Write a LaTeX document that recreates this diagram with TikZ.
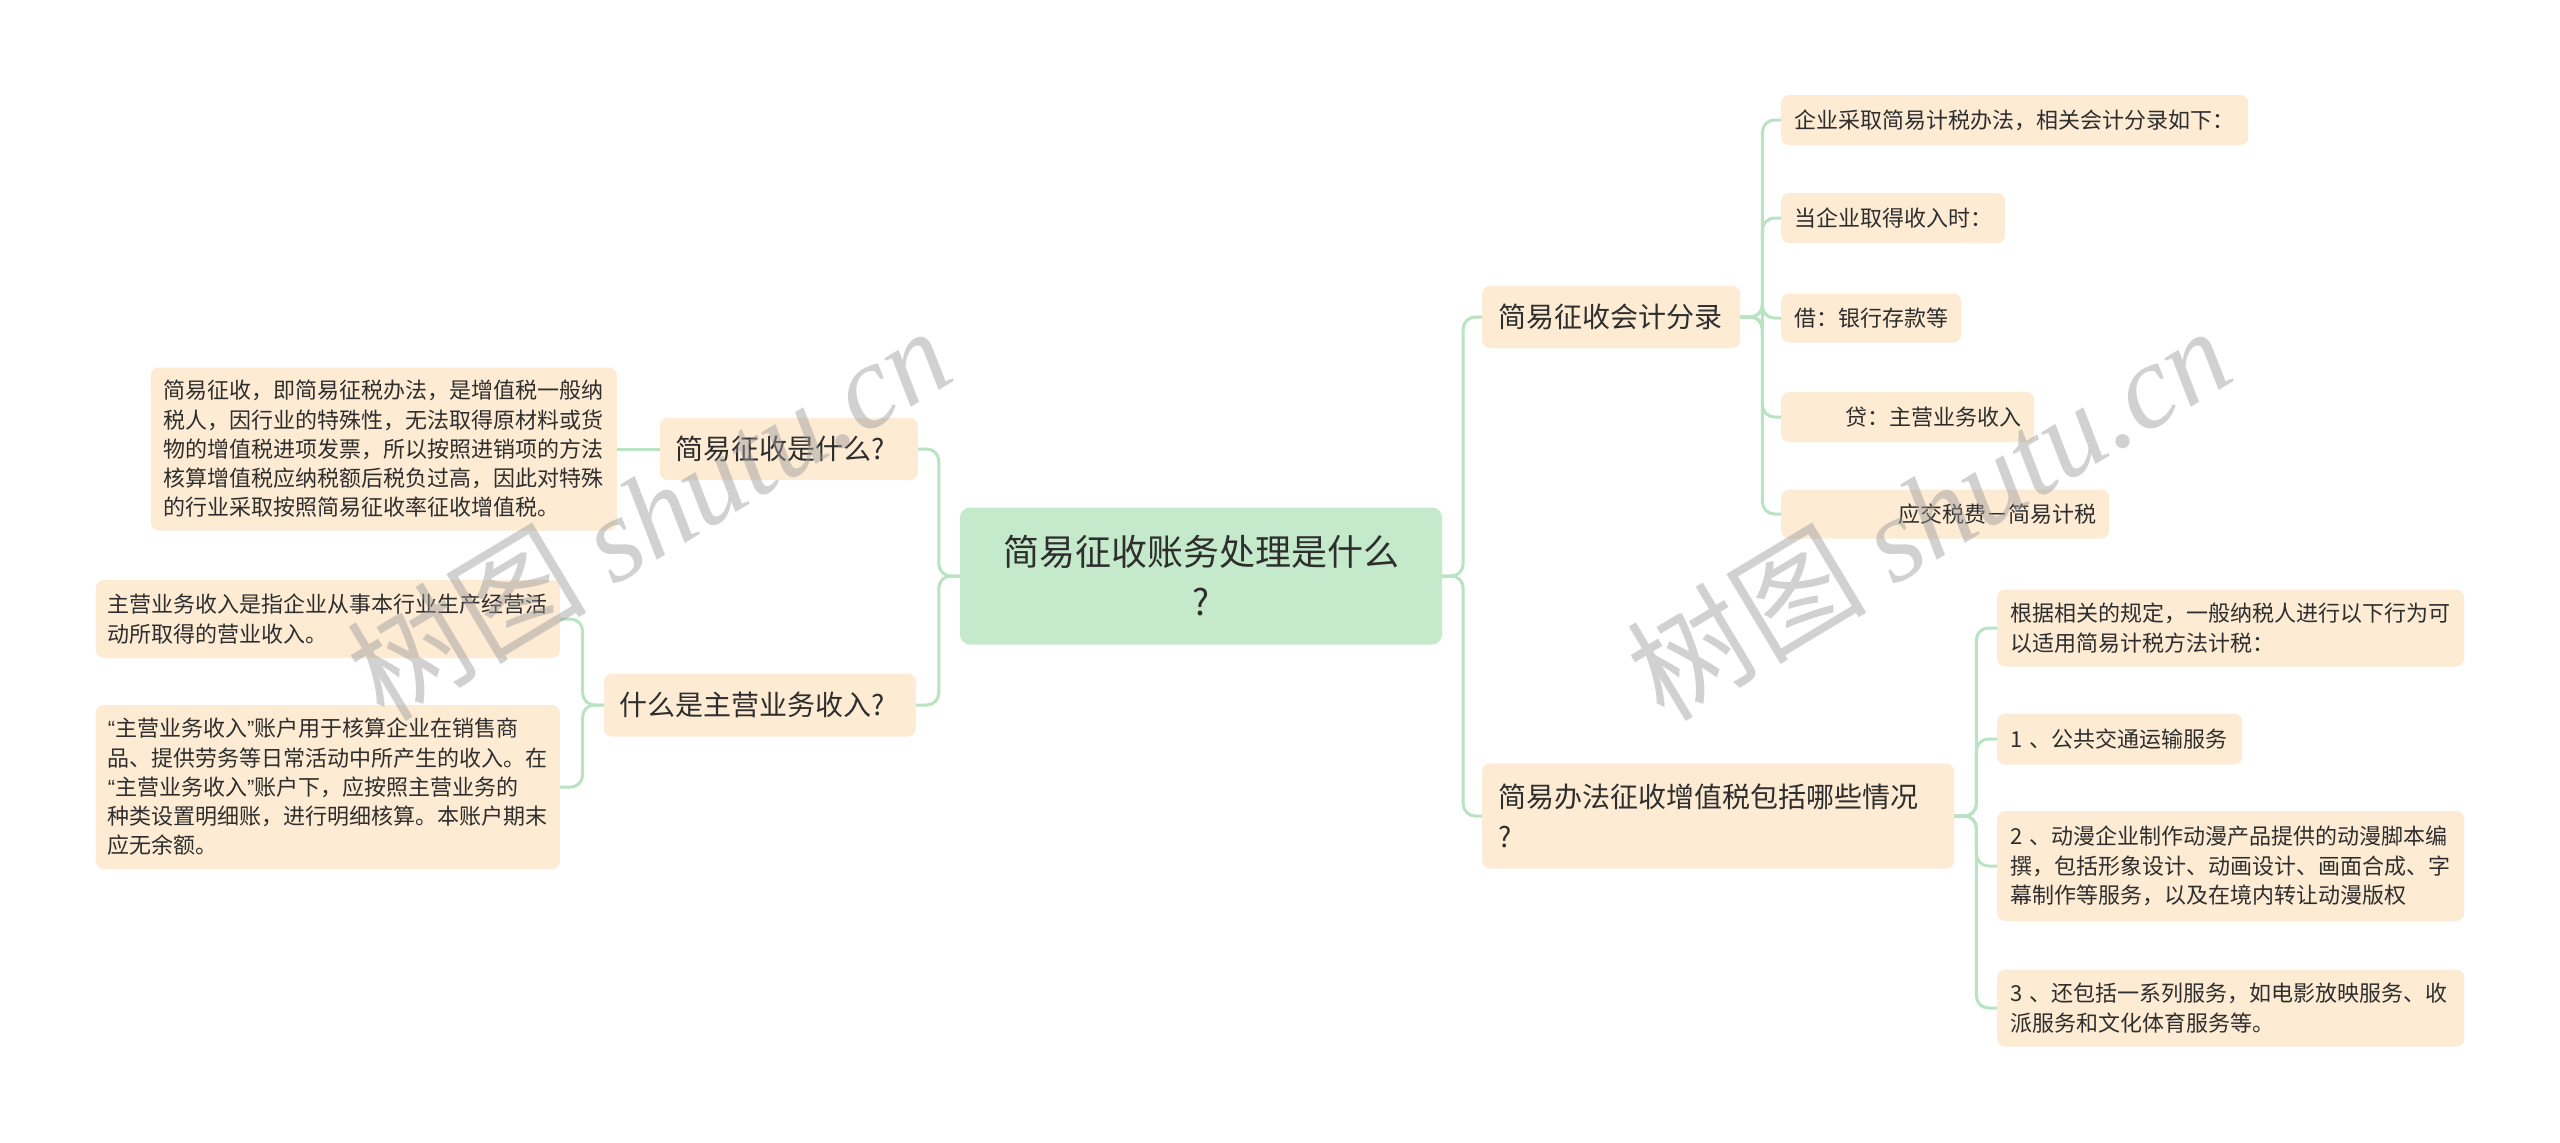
\documentclass[tikz,border=0pt]{standalone}
\usepackage{fontspec}
\newfontfamily\cjk{Noto Sans CJK SC}
\newfontfamily\wmLatin{Liberation Serif}
\newfontfamily\quoteFont{Liberation Sans}
\newcommand{\openQ}{{\quoteFont “}}
\newcommand{\closeQ}{{\quoteFont ”}}
\definecolor{rootGreen}{HTML}{C5EACB}
\definecolor{peach}{HTML}{FDEBD4}
\definecolor{linkGreen}{HTML}{B9E3C2}
\definecolor{textDark}{HTML}{2E2E2E}

\begin{document}
\begin{tikzpicture}[x=1pt, y=-1pt,
box/.style={rectangle, rounded corners=8, fill=peach, text=textDark, align=left, inner ysep=0},
topic/.style={box, fill=rootGreen, rounded corners=10, align=center, font=\cjk\fontsize{36}{50}\selectfont},
branch/.style={box, inner xsep=16, font=\cjk\fontsize{28}{40}\selectfont},
leaf/.style={box, inner xsep=13, font=\cjk\fontsize{22}{29.3}\selectfont},
link/.style={draw=linkGreen, line width=3, rounded corners=12},
watermark/.style={text=black!40, opacity=0.45, font=\fontsize{120}{120}\selectfont, inner sep=0}]

\fill[white] (0,0) rectangle (2560,1143);
\useasboundingbox (0,0) rectangle (2560,1143);

% ROOT
\node[topic, minimum width=482, minimum height=137] (root) at (1201,576) {简易征收账务处理是什么\\?};

% LEFT SIDE
\node[branch, anchor=east, text width=226, minimum height=62] (whatIs) at (918,449) {简易征收是什么?};
\node[leaf, anchor=east, text width=440, minimum height=163] (whatIsText) at (617,449)
{简易征收，即简易征税办法，是增值税一般纳\\税人，因行业的特殊性，无法取得原材料或货\\物的增值税进项发票，所以按照进销项的方法\\核算增值税应纳税额后税负过高，因此对特殊\\的行业采取按照简易征收率征收增值税。};

\node[branch, anchor=east, text width=280, minimum height=63] (mainIncome) at (916,705) {什么是主营业务收入?};
\node[leaf, anchor=east, text width=440, inner xsep=12, minimum height=78] (mainIncomeA) at (560,619)
{主营业务收入是指企业从事本行业生产经营活\\动所取得的营业收入。};
\node[leaf, anchor=east, text width=440, inner xsep=12, minimum height=164] (mainIncomeB) at (560,787)
{\openQ 主营业务收入\closeQ 账户用于核算企业在销售商\\品、提供劳务等日常活动中所产生的收入。在\\\openQ 主营业务收入\closeQ 账户下，应按照主营业务的\\种类设置明细账，进行明细核算。本账户期末\\应无余额。};

% RIGHT SIDE
\node[branch, anchor=west, text width=226, minimum height=62] (entries) at (1482,317) {简易征收会计分录};
\node[leaf, anchor=west, text width=441, minimum height=50] (entryA) at (1781,120) {企业采取简易计税办法，相关会计分录如下：};
\node[leaf, anchor=west, text width=198, minimum height=50] (entryB) at (1781,218) {当企业取得收入时：};
\node[leaf, anchor=west, text width=154, minimum height=49] (entryC) at (1781,318) {借：银行存款等};
\node[leaf, anchor=west, text width=227, minimum height=50] (entryD) at (1781,417) {\hspace*{51pt}贷：主营业务收入};
\node[leaf, anchor=west, text width=302, minimum height=49] (entryE) at (1781,514) {\hspace*{104pt}应交税费－简易计税};

\node[branch, anchor=west, text width=440, minimum height=105] (cases) at (1482,816) {简易办法征收增值税包括哪些情况\\?};
\node[leaf, anchor=west, text width=441, minimum height=77] (caseA) at (1997,628)
{根据相关的规定，一般纳税人进行以下行为可\\以适用简易计税方法计税：};
\node[leaf, anchor=west, text width=219, minimum height=51] (caseB) at (1997,739) {1 、公共交通运输服务};
\node[leaf, anchor=west, text width=441, minimum height=110] (caseC) at (1997,866)
{2 、动漫企业制作动漫产品提供的动漫脚本编\\撰，包括形象设计、动画设计、画面合成、字\\幕制作等服务，以及在境内转让动漫版权};
\node[leaf, anchor=west, text width=441, minimum height=77] (caseD) at (1997,1008)
{3 、还包括一系列服务，如电影放映服务、收\\派服务和文化体育服务等。};

% LINKS
\foreach \child in {whatIs, mainIncome}
  \draw[link] (root.west) -- ++(-21,0) |- (\child.east);
\draw[link] (whatIs.west) -- (whatIsText.east);
\foreach \child in {mainIncomeA, mainIncomeB}
  \draw[link] (mainIncome.west) -- ++(-21,0) |- (\child.east);

\foreach \child in {entries, cases}
  \draw[link] (root.east) -- ++(21,0) |- (\child.west);
\foreach \child in {entryA, entryB, entryC, entryD, entryE}
  \draw[link] (entries.east) -- ++(22,0) |- (\child.west);
\foreach \child in {caseA, caseB, caseC, caseD}
  \draw[link] (cases.east) -- ++(22,0) |- (\child.west);

% WATERMARKS
\node[watermark, rotate=31] (markLeft) at (648,512) {\cjk 树图 \wmLatin\itshape shutu.cn};
\node[watermark, rotate=31] (markRight) at (1928,512) {\cjk 树图 \wmLatin\itshape shutu.cn};

\end{tikzpicture}
\end{document}
